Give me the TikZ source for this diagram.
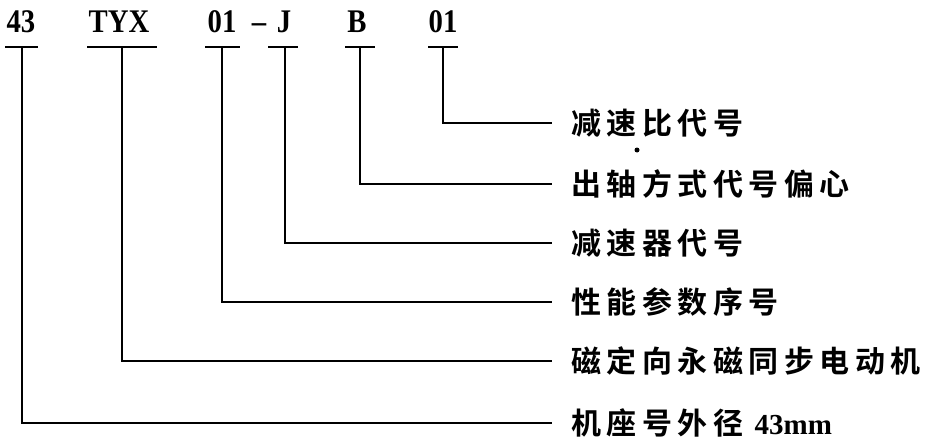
\documentclass[tikz,border=0pt]{standalone}
\usepackage{fontspec}
\newfontfamily\codefont[FakeStretch=0.87]{Liberation Serif Bold}
\newfontfamily\cjk{Noto Sans CJK SC Bold}
\newfontfamily\latinfont{Liberation Serif Bold}
\newcommand\spaced[1]{\spacedA#1\relax}
\def\spacedA#1{\ifx#1\relax\else\makebox[35.5pt][l]{#1}\expandafter\spacedA\fi}
\tikzset{
  tbar/.style={line width=2pt},
  conn/.style={line width=2pt},
  code/.style={font=\codefont\fontsize{33}{36}\selectfont, inner sep=0pt, anchor=base},
  desc/.style={font=\cjk\fontsize{30}{34}\selectfont, inner sep=0pt, anchor=west}
}
\begin{document}
\begin{tikzpicture}[x=1pt,y=-1pt]
\useasboundingbox (0,0) rectangle (931,441);
% code labels
\node[code] (c43) at (21,33) {43};
\node[code] (ctyx) at (119,33) {TYX};
\node[code] (c01a) at (222,33) {01};
\node[code] (cdash) at (259,33) {–};
\node[code] (cj) at (284,33) {J};
\node[code] (cb) at (357,33) {B};
\node[code] (c01b) at (443,33) {01};
% descriptions
\node[desc] (d1) at (571,123) {\spaced{减速比代号}};
\node[desc] (d2) at (571,184) {\spaced{出轴方式代号偏心}};
\node[desc] (d3) at (571,243) {\spaced{减速器代号}};
\node[desc] (d4) at (571,302) {\spaced{性能参数序号}};
\node[desc] (d5) at (571,361) {\spaced{磁定向永磁同步电动机}};
\node[desc] (d6) at (571,423) {\spaced{机座号外径}\hspace{6pt}{\latinfont\fontsize{29}{32}\selectfont 43mm}};
% bar tops
\coordinate (t43) at (22,47);
\coordinate (ttyx) at (122,47);
\coordinate (t01a) at (222,47);
\coordinate (tj) at (285,47);
\coordinate (tb) at (360,47);
\coordinate (t01b) at (443,47);
% T bars
\draw[tbar] ([xshift=-17pt]t43) -- ([xshift=16pt]t43);
\draw[tbar] ([xshift=-35pt]ttyx) -- ([xshift=35pt]ttyx);
\draw[tbar] ([xshift=-17pt]t01a) -- ([xshift=18pt]t01a);
\draw[tbar] ([xshift=-17pt]tj) -- ([xshift=13pt]tj);
\draw[tbar] ([xshift=-15pt]tb) -- ([xshift=15pt]tb);
\draw[tbar] ([xshift=-15pt]t01b) -- ([xshift=15pt]t01b);
% connectors
\draw[conn] (t01b) |- ([xshift=-19pt]d1.west);
\draw[conn] (tb) |- ([xshift=-19pt]d2.west);
\draw[conn] (tj) |- ([xshift=-19pt]d3.west);
\draw[conn] (t01a) |- ([xshift=-19pt]d4.west);
\draw[conn] (ttyx) |- ([xshift=-19pt]d5.west);
\draw[conn] (t43) |- ([xshift=-19pt]d6.west);
% stray dot
\fill (637,150) circle (2.5pt);
\end{tikzpicture}
\end{document}
